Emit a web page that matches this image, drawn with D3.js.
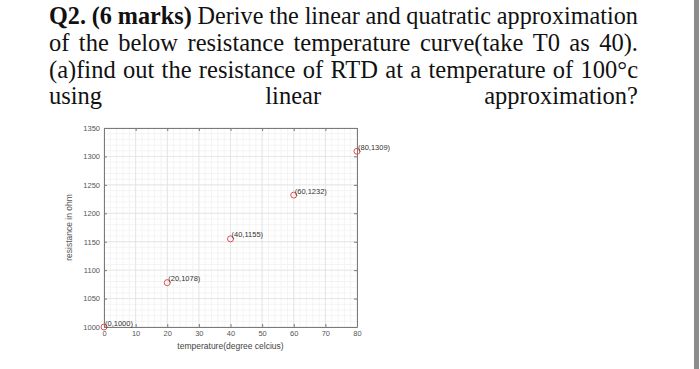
<!DOCTYPE html>
<html>
<head>
<meta charset="utf-8">
<script src="https://cdn.jsdelivr.net/npm/d3@7"></script>
<style>
  html, body { margin: 0; padding: 0; background: #fff; }
  svg { display: block; }
</style>
</head>
<body>
<div id="chart"></div>
<script>
// question text, one array of words per line (bold words flagged)
const questionLines = [
  [["Q2.", true], ["(6", true], ["marks)", true], ["Derive"], ["the"], ["linear"], ["and"], ["quatratic"], ["approximation"]],
  [["of"], ["the"], ["below"], ["resistance"], ["temperature"], ["curve(take"], ["T0"], ["as"], ["40)."]],
  [["(a)find"], ["out"], ["the"], ["resistance"], ["of"], ["RTD"], ["at"], ["a"], ["temperature"], ["of"], ["100°c"]],
  [["using"], ["linear"], ["approximation?"]]
];

// data
const temps = [0, 20, 40, 60, 80];
const resist = [1000, 1078, 1155, 1232, 1309];
const pointLabels = ["(0,1000)", "(20,1078)", "(40,1155)", "(60,1232)", "(80,1309)"];
const xTicks = [0, 10, 20, 30, 40, 50, 60, 70, 80];
const yTicks = [1000, 1050, 1100, 1150, 1200, 1250, 1300, 1350];
const xMinor = d3.range(0, 81, 2);
const yMinor = d3.range(1000, 1351, 10);

const W = 700, H = 369;
const svg = d3.select("#chart").append("svg")
    .attr("width", W)
    .attr("height", H);

// --- question text, justified ---
const textLeft = 49, textRight = 638, fs = 24.5;
const baselines = [24.5, 51, 77.5, 104];

questionLines.forEach((words, li) => {
  const g = svg.append("g");
  const nodes = words.map(w => g.append("text")
      .attr("y", baselines[li])
      .style("font-family", "'Liberation Serif', 'Times New Roman', serif")
      .style("font-size", fs + "px")
      .style("font-weight", w[1] ? "bold" : "normal")
      .attr("fill", "#111")
      .text(w[0]));
  const widths = nodes.map(n => n.node().getComputedTextLength());
  const total = d3.sum(widths);
  let gap = (textRight - textLeft - total) / (words.length - 1);
  let sx = 1;
  if (gap < fs * 0.24) {
    gap = fs * 0.24;
    sx = (textRight - textLeft) / (total + gap * (words.length - 1));
  }
  let cx = 0;
  nodes.forEach((n, i) => {
    n.attr("x", cx);
    cx += widths[i] + gap;
  });
  g.attr("transform", `translate(${textLeft},0) scale(${sx},1)`);
});

// gray strip at the right edge
svg.append("rect")
    .attr("x", 694).attr("y", 0)
    .attr("width", 5).attr("height", H)
    .attr("fill", "#8c8c8c");

// --- chart ---
const margin = {left: 104, top: 128, right: 357, bottom: 327};

const x = d3.scaleLinear().domain([0, 80]).range([margin.left, margin.right]);
const y = d3.scaleLinear().domain([1000, 1350]).range([margin.bottom, margin.top]);

const grid = svg.append("g");
grid.selectAll(".vminor").data(xMinor).join("line")
    .attr("x1", d => x(d)).attr("x2", d => x(d))
    .attr("y1", margin.top).attr("y2", margin.bottom)
    .attr("stroke", "#f1f1f1").attr("stroke-width", 0.8);
grid.selectAll(".hminor").data(yMinor).join("line")
    .attr("y1", d => y(d)).attr("y2", d => y(d))
    .attr("x1", margin.left).attr("x2", margin.right)
    .attr("stroke", "#f1f1f1").attr("stroke-width", 0.8);
grid.selectAll(".vmajor").data(xTicks).join("line")
    .attr("x1", d => x(d)).attr("x2", d => x(d))
    .attr("y1", margin.top).attr("y2", margin.bottom)
    .attr("stroke", "#e2e2e2").attr("stroke-width", 0.8);
grid.selectAll(".hmajor").data(yTicks).join("line")
    .attr("y1", d => y(d)).attr("y2", d => y(d))
    .attr("x1", margin.left).attr("x2", margin.right)
    .attr("stroke", "#e2e2e2").attr("stroke-width", 0.8);

const axisColor = "#7a7a7a";
function styleAxis(g) {
  g.selectAll("path").attr("stroke", axisColor).attr("stroke-width", 1);
  g.selectAll("line").attr("stroke", axisColor);
  g.selectAll("text")
      .attr("fill", "#555")
      .style("font-family", "'Liberation Sans', Arial, sans-serif")
      .style("font-size", "7.5px");
}

const fmt = d3.format("d");
svg.append("g")
    .attr("transform", `translate(0,${margin.bottom})`)
    .call(d3.axisBottom(x).tickValues(xTicks).tickFormat(fmt).tickSize(-3).tickSizeOuter(0).tickPadding(4))
    .call(styleAxis);
svg.append("g")
    .attr("transform", `translate(${margin.left},0)`)
    .call(d3.axisLeft(y).tickValues(yTicks).tickFormat(fmt).tickSize(-3).tickSizeOuter(0).tickPadding(4))
    .call(styleAxis);
svg.append("g")
    .attr("transform", `translate(0,${margin.top})`)
    .call(d3.axisTop(x).tickValues(xTicks).tickSize(-3).tickSizeOuter(0).tickFormat(""))
    .call(styleAxis);
svg.append("g")
    .attr("transform", `translate(${margin.right},0)`)
    .call(d3.axisRight(y).tickValues(yTicks).tickSize(-3).tickSizeOuter(0).tickFormat(""))
    .call(styleAxis);

// points
const pts = temps.map((t, i) => ({t, r: resist[i], label: pointLabels[i]}));
svg.append("g").selectAll("circle").data(pts).join("circle")
    .attr("cx", d => x(d.t))
    .attr("cy", d => y(d.r))
    .attr("r", 3)
    .attr("fill", "none")
    .attr("stroke", "#e0505a")
    .attr("stroke-width", 1);

svg.append("g").selectAll("text").data(pts).join("text")
    .attr("x", d => x(d.t) + 1)
    .attr("y", d => y(d.r) - 4)
    .attr("dy", "0.35em")
    .attr("fill", "#333")
    .style("font-family", "'Liberation Sans', Arial, sans-serif")
    .style("font-size", "7.5px")
    .text(d => d.label);

// axis labels
svg.append("text")
    .attr("x", (margin.left + margin.right) / 2)
    .attr("y", 346)
    .attr("dy", "0.35em")
    .attr("text-anchor", "middle")
    .attr("fill", "#444")
    .style("font-family", "'Liberation Sans', Arial, sans-serif")
    .style("font-size", "8.5px")
    .text("temperature(degree celcius)");

svg.append("text")
    .attr("transform", `translate(69,${(margin.top + margin.bottom) / 2}) rotate(-90)`)
    .attr("text-anchor", "middle")
    .attr("dy", "0.35em")
    .attr("fill", "#555")
    .style("font-family", "'Liberation Sans', Arial, sans-serif")
    .style("font-size", "8.5px")
    .text("resistance in ohm");
</script>
</body>
</html>
